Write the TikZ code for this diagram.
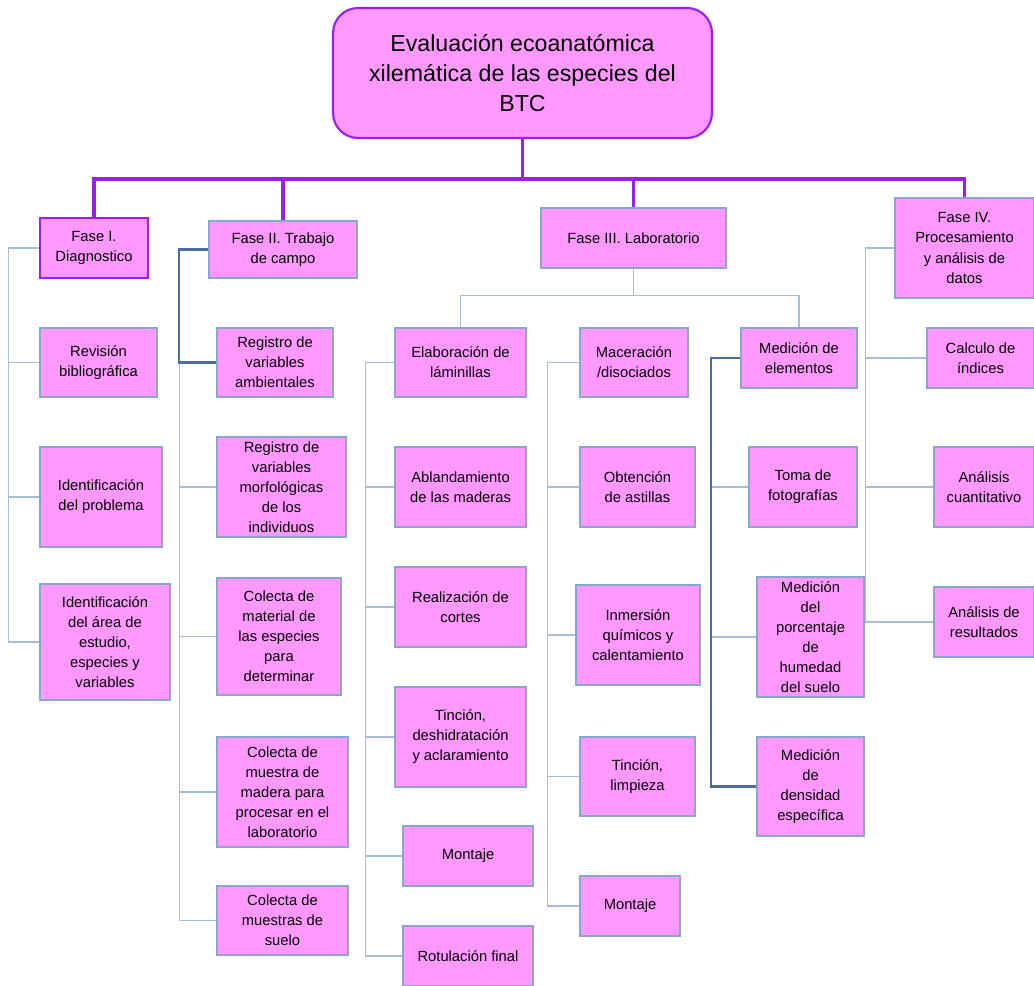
\documentclass[tikz,border=0pt]{standalone}
\usepackage{fontspec}
\setmainfont{Liberation Sans}
\definecolor{rosa}{RGB}{255,153,255}
\definecolor{lila}{RGB}{155,30,240}
\definecolor{borde}{RGB}{140,165,205}
\definecolor{ramaclara}{RGB}{165,188,218}
\definecolor{ramaoscura}{RGB}{75,110,160}
\tikzset{
  caja/.style={rectangle, draw=borde, line width=0.8pt, fill=rosa, inner sep=0pt,
    align=center, font=\fontsize{8.4}{11.4}\selectfont},
  fase/.style={caja, draw=lila, line width=1.2pt},
  tronco/.style={draw=lila, line width=2pt},
  rama/.style={draw=ramaclara, line width=0.6pt},
  ramafuerte/.style={draw=ramaoscura, line width=1.2pt}
}
\begin{document}
\begin{tikzpicture}[x=0.02cm,y=-0.02cm]
\useasboundingbox (0,0) rectangle (1034,986);
%%Titulo
\node[caja, draw=lila, line width=1.2pt, rounded corners=0.5cm, minimum width=7.58cm, minimum height=2.6cm,
  font=\fontsize{13.2}{17}\selectfont] (eval) at (522.5,73)
  {Evaluación ecoanatómica\\xilemática de las especies del\\BTC};
%%Fases
\node[fase, minimum width=2.16cm, minimum height=1.2cm] (f1) at (94,248) {Fase I.\\Diagnostico};
\node[caja, minimum width=2.96cm, minimum height=1.14cm] (f2) at (283,249.5) {Fase II. Trabajo\\de campo};
\node[caja, minimum width=3.7cm, minimum height=1.2cm] (f3) at (633.5,238) {Fase III. Laboratorio};
\node[caja, minimum width=2.78cm, minimum height=2cm] (f4) at (964.5,248) {Fase IV.\\Procesamiento\\y análisis de\\datos};
%%Fase I
\node[caja, minimum width=2.34cm, minimum height=1.38cm] (rev) at (98.5,362.5) {Revisión\\bibliográfica};
\node[caja, minimum width=2.44cm, minimum height=2cm] (prob) at (101,497) {Identificación\\del problema};
\node[caja, minimum width=2.6cm, minimum height=2.32cm] (area) at (105,642) {Identificación\\del área de\\estudio,\\especies y\\variables};
%%Fase II
\node[caja, minimum width=2.32cm, minimum height=1.38cm] (amb) at (275,362.5) {Registro de\\variables\\ambientales};
\node[caja, minimum width=2.58cm, minimum height=2cm] (morf) at (281.5,487) {Registro de\\variables\\morfológicas\\de los\\individuos};
\node[caja, minimum width=2.48cm, minimum height=2.34cm] (mat) at (279,636.5) {Colecta de\\material de\\las especies\\para\\determinar};
\node[caja, minimum width=2.62cm, minimum height=2.2cm] (mad) at (282.5,792) {Colecta de\\muestra de\\madera para\\procesar en el\\laboratorio};
\node[caja, minimum width=2.62cm, minimum height=1.38cm] (suelo) at (282.5,920.5) {Colecta de\\muestras de\\suelo};
%%Fase III
\node[caja, minimum width=2.62cm, minimum height=1.38cm] (elab) at (460.5,362.5) {Elaboración de\\láminillas};
\node[caja, minimum width=2.62cm, minimum height=1.6cm] (abl) at (460.5,487) {Ablandamiento\\de las maderas};
\node[caja, minimum width=2.62cm, minimum height=1.6cm] (cort) at (460.5,607) {Realización de\\cortes};
\node[caja, minimum width=2.62cm, minimum height=2cm] (tinc) at (460.5,737) {Tinción,\\deshidratación\\y aclaramiento};
\node[caja, minimum width=2.6cm, minimum height=1.2cm] (mont) at (468,856) {Montaje};
\node[caja, minimum width=2.6cm, minimum height=1.2cm] (rot) at (468,956) {Rotulación final};
\node[caja, minimum width=2.16cm, minimum height=1.38cm] (mac) at (634,362.5) {Maceración\\/disociados};
\node[caja, minimum width=2.3cm, minimum height=1.6cm] (ast) at (637.5,487) {Obtención\\de astillas};
\node[caja, minimum width=2.48cm, minimum height=2cm] (inm) at (638,635) {Inmersión\\químicos y\\calentamiento};
\node[caja, minimum width=2.3cm, minimum height=1.58cm] (limp) at (637.5,776.5) {Tinción,\\limpieza};
\node[caja, minimum width=2cm, minimum height=1.2cm] (montb) at (630,906) {Montaje};
\node[caja, minimum width=2.32cm, minimum height=1.2cm] (med) at (799,358) {Medición de\\elementos};
\node[caja, minimum width=2.16cm, minimum height=1.6cm] (foto) at (803,487) {Toma de\\fotografías};
\node[caja, minimum width=2.14cm, minimum height=2.4cm] (hum) at (810.5,637) {Medición\\del\\porcentaje\\de\\humedad\\del suelo};
\node[caja, minimum width=2.14cm, minimum height=1.98cm] (dens) at (810.5,786.5) {Medición\\de\\densidad\\específica};
%%Fase IV
\node[caja, minimum width=2.14cm, minimum height=1.2cm] (ind) at (980.5,358) {Calculo de\\índices};
\node[caja, minimum width=2cm, minimum height=1.6cm] (cuant) at (984,487) {Análisis\\cuantitativo};
\node[caja, minimum width=2cm, minimum height=1.4cm] (res) at (984,622) {Análisis de\\resultados};
%%Tronco
\draw[tronco] (eval.south) -- ++(0,40) -| (f1.north);
\draw[tronco] (eval.south) -- ++(0,40) -| (f2.north);
\draw[tronco] (eval.south) -- ++(0,40) -| (f3.north);
\draw[tronco] (eval.south) -- ++(0,40) -| (f4.north);
%%Ramas
\foreach \h in {rev,prob,area} \draw[rama] (f1.west) -- ++(-30,0) |- (\h.west);
\foreach \h in {morf,mat,mad,suelo} \draw[rama] (f2.west) -- ++(-29,0) |- (\h.west);
\draw[ramafuerte] (f2.west) -- ++(-29,0) |- (amb.west);
\draw[rama] (f3.south) -- ++(0,27) -| (elab.north);
\draw[rama] (f3.south) -- ++(0,27) -| (med.north);
\foreach \h in {abl,cort,tinc,mont,rot} \draw[rama] (elab.west) -- ++(-29,0) |- (\h.west);
\foreach \h in {ast,inm,limp,montb} \draw[rama] (mac.west) -- ++(-32,0) |- (\h.west);
\foreach \h in {foto,hum} \draw[rama] (med.west) -- ++(-29,0) |- (\h.west);
\draw[ramafuerte] (med.west) -- ++(-29,0) |- (dens.west);
\foreach \h in {ind,cuant,res} \draw[rama] (f4.west) -- ++(-29,0) |- (\h.west);
\end{tikzpicture}
\end{document}
